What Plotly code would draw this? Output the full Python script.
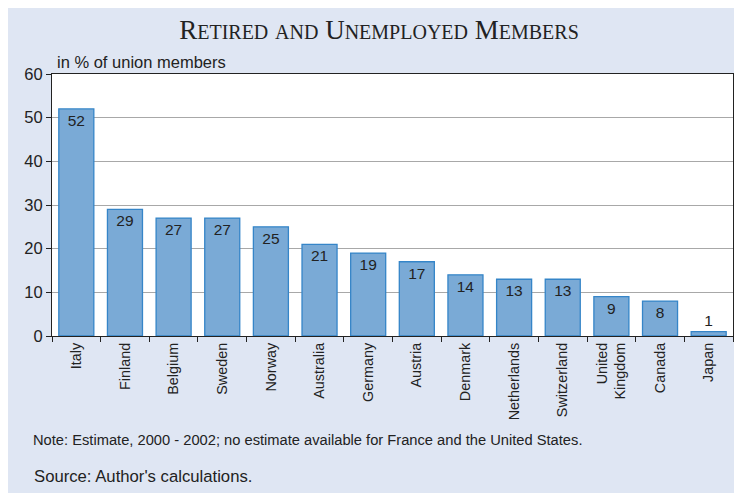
import plotly.graph_objects as go

countries = ["Italy", "Finland", "Belgium", "Sweden", "Norway", "Australia", "Germany",
             "Austria", "Denmark", "Netherlands", "Switzerland", "United<br>Kingdom", "Canada", "Japan"]
values = [52, 29, 27, 27, 25, 21, 19, 17, 14, 13, 13, 9, 8, 1]
y_ticks = [0, 10, 20, 30, 40, 50, 60]

BG = "#dfe6f3"
OFF = 8  # page body margin
W, H = 742, 493
L, T = 52 - OFF, 74 - OFF
R = W - (733 - OFF)
B = H - (336 - OFF)

fig = go.Figure()
fig.add_trace(go.Bar(
    x=countries, y=values,
    marker=dict(color="#7aaad6", line=dict(color="#3585c8", width=1.3)),
    text=[str(v) for v in values], textposition="auto",
    insidetextanchor="end",
    textfont=dict(family="Liberation Sans, Arial", size=15.5, color="#222222"),
    cliponaxis=False,
))

def sc(word, big=27, small=20):
    return f"<span style='font-size:{big}px'>{word[0]}</span><span style='font-size:{small}px'>{word[1:]}</span>"

title_text = " ".join([sc("RETIRED"), "<span style='font-size:20px'>AND</span>", sc("UNEMPLOYED"), sc("MEMBERS")])

pw = W - L - R
ph = H - T - B
def px(x):
    return (x - OFF - L) / pw
def py(y):
    return (H - B - (y - OFF)) / ph

fig.update_layout(
    width=W, height=H,
    paper_bgcolor=BG, plot_bgcolor="white",
    margin=dict(l=L, r=R, t=T, b=B, autoexpand=False),
    bargap=0.28,
    showlegend=False,
    font=dict(family="Liberation Sans, Arial", color="#222222"),
    title=dict(text=title_text, x=0.5, xanchor="center", y=1 - (30 - OFF) / H, yanchor="middle",
               xref="container", yref="container",
               font=dict(family="Liberation Serif, Times New Roman", size=27, color="#222222")),
    xaxis=dict(showline=True, linecolor="#222222", linewidth=1, mirror=True, automargin=False,
               ticks="outside", tickson="boundaries", ticklen=5, tickcolor="#222222",
               tickangle=-90, tickfont=dict(size=14.4, color="#222222")),
    yaxis=dict(range=[0, 60], tickvals=y_ticks, showline=True, linecolor="#222222", linewidth=1,
               mirror=True, ticks="outside", ticklen=5, tickcolor="#222222", automargin=False,
               showgrid=True, gridcolor="#a8a8a8", gridwidth=1,
               tickfont=dict(size=16.5, color="#222222"), zeroline=False),
    annotations=[
        dict(text="in % of union members", x=px(55), y=py(62), xref="paper", yref="paper",
             xanchor="left", yanchor="middle", showarrow=False, font=dict(size=16.5)),
        dict(text="Note: Estimate, 2000 - 2002; no estimate available for France and the United States.",
             xref="paper", yref="paper", x=px(31), y=py(440), xanchor="left", yanchor="middle",
             showarrow=False, font=dict(size=14.7)),
        dict(text="Source: Author's calculations.", xref="paper", yref="paper", x=px(32), y=py(476),
             xanchor="left", yanchor="middle", showarrow=False, font=dict(size=16.7)),
    ],
)

fig.write_html("out.html")
